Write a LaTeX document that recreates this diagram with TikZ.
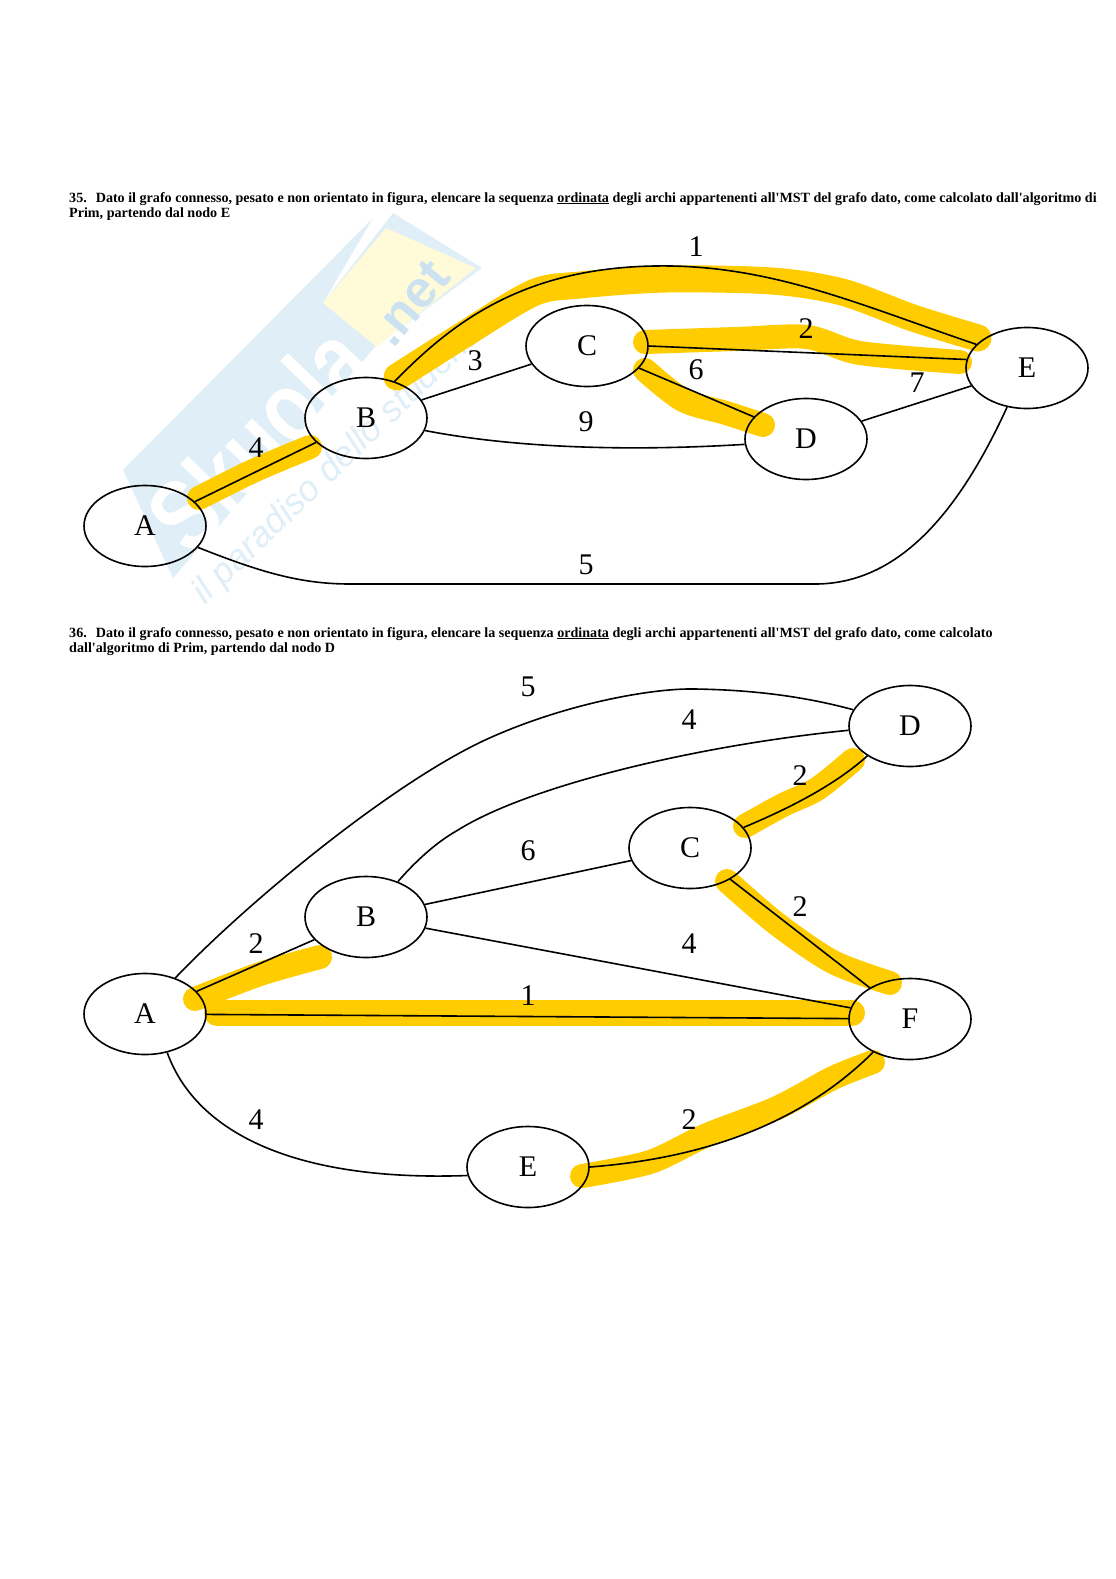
\documentclass[tikz,border=0pt]{standalone}
\usepackage{fontspec}
\setmainfont{Liberation Serif}
\newfontfamily\markfont{Liberation Sans}
\usetikzlibrary{shapes.geometric}
\definecolor{marker}{HTML}{FFCC00}
\definecolor{markblue}{HTML}{DFEEF7}
\definecolor{markletter}{HTML}{CCE2F1}
\definecolor{markyellow}{HTML}{FFFBD8}
\begin{document}
\begin{tikzpicture}[x=1pt, y=-1pt,
	vertex/.style={ellipse, draw, line width=1.6pt, minimum width=122pt, minimum height=81pt, inner sep=0pt, font=\fontsize{30}{30}\selectfont},
	weight/.style={inner sep=0pt, font=\fontsize{30}{30}\selectfont},
	edge/.style={line width=1.6pt},
	stroke/.style={marker, line width=24pt, line cap=round, line join=round},
	question/.style={anchor=north west, inner sep=0pt, align=left, font=\fontsize{14.1}{15.4}\selectfont\bfseries}]
\useasboundingbox (0,0) rectangle (1116,1579);
% watermark
\fill [markblue] (123,470) -- (373,218) -- (323,303) -- (375,347) -- (173,578) -- cycle;
\fill [markblue] (323,303) -- (393,213) -- (482,268) -- (375,347) -- cycle;
\fill [markyellow] (323,303) -- (386,228) -- (476,268) -- (377,347) -- cycle;
\node [white, rotate=46, inner sep=0pt, font=\markfont\fontsize{92}{92}\selectfont\bfseries] (skuola) at (258,438) {\scalebox{0.88}[1.1]{Skuola}};
\node [markletter, rotate=50, inner sep=0pt, font=\markfont\fontsize{52}{52}\selectfont\bfseries] (net) at (410,303) {.net};
\node [markblue, rotate=44, inner sep=0pt, font=\markfont\itshape\fontsize{36}{36}\selectfont] (motto) at (342,460) {il paradiso dello studente};
% highlighted arcs, first graph
\draw [stroke] plot [smooth] coordinates {(199,498) (253,471) (310,447)};
\draw [stroke, line width=27pt] plot [smooth] coordinates {(397,377) (460,337) (533,293) (580,285) (666,279) (772,281) (842,292) (913,318) (978,338)};
\draw [stroke] plot [smooth] coordinates {(645,342) (736,339) (807,337) (860,353) (960,362)};
\draw [stroke] plot [smooth] coordinates {(645,370) (683,400) (726,413) (763,425)};
% highlighted arcs, second graph
\draw [stroke] plot [smooth] coordinates {(195,999) (260,974) (320,957)};
\draw [stroke, line width=26pt] (217,1013) -- (852,1013);
\draw [stroke] plot [smooth] coordinates {(745,826) (783,805) (817,789) (853,760)};
\draw [stroke] plot [smooth] coordinates {(727,881) (777,924) (833,962) (890,983)};
\draw [stroke] plot [smooth] coordinates {(582,1176) (650,1162) (707,1135) (777,1108) (833,1078) (873,1062)};
% first question
\node [question] (q35) at (69,192) {35.\hspace{9pt}Dato il grafo connesso, pesato e non orientato in figura, elencare la sequenza \underline{ordinata} degli archi appartenenti all\textquotesingle MST del grafo dato, come calcolato dall\textquotesingle algoritmo di\\Prim, partendo dal nodo E};
\node [vertex] (a1) at (145,526) {A};
\node [vertex] (b1) at (366,418) {B};
\node [vertex] (c1) at (587,346) {C};
\node [vertex] (d1) at (806,439) {D};
\node [vertex] (e1) at (1027,368) {E};
\draw [edge] (a1) -- (b1);
\draw [edge] (b1) -- (c1);
\draw [edge] (c1) -- (d1);
\draw [edge] (c1.0) -- (e1.172);
\draw [edge] (d1) -- (e1);
\draw [edge] (b1.-12) .. controls (510,447) and (620,452) .. (d1.185);
\draw [edge] (b1.52) .. controls (450,325) and (520,268) .. (655,266) .. controls (770,264) and (860,305) .. (e1.155);
\draw [edge] (a1.-22) .. controls (260,572) and (300,584) .. (350,584) -- (815,584) .. controls (900,584) and (960,510) .. (e1.-117);
\node [weight] (w1) at (696,247) {1};
\node [weight] (w2) at (806,329) {2};
\node [weight] (w3) at (475,361) {3};
\node [weight] (w4) at (256,448) {4};
\node [weight] (w5) at (586,565) {5};
\node [weight] (w6) at (696,370) {6};
\node [weight] (w7) at (917,383) {7};
\node [weight] (w9) at (586,422) {9};
% second question
\node [question] (q36) at (69,627) {36.\hspace{9pt}Dato il grafo connesso, pesato e non orientato in figura, elencare la sequenza \underline{ordinata} degli archi appartenenti all\textquotesingle MST del grafo dato, come calcolato\\dall\textquotesingle algoritmo di Prim, partendo dal nodo D};
\node [vertex] (a2) at (145,1014) {A};
\node [vertex] (b2) at (366,917) {B};
\node [vertex] (c2) at (690,848) {C};
\node [vertex] (d2) at (910,726) {D};
\node [vertex] (e2) at (528,1167) {E};
\node [vertex] (f2) at (910,1019) {F};
\draw [edge] (a2) -- (b2);
\draw [edge] (a2) -- (f2);
\draw [edge] (b2) -- (c2);
\draw [edge] (b2) -- (f2);
\draw [edge] (c2) -- (f2);
\draw [edge] (c2.21) .. controls (790,808) and (835,785) .. (d2.-145);
\draw [edge] (a2.50) .. controls (250,900) and (390,785) .. (483,741) .. controls (560,705) and (650,688) .. (695,689) .. controls (760,690) and (810,698) .. (d2.164);
\draw [edge] (b2.48) .. controls (415,862) and (435,843) .. (458,830) .. controls (530,785) and (700,745) .. (d2.184);
\draw [edge] (a2.-60) .. controls (195,1130) and (290,1182) .. (e2.188);
\draw [edge] (e2.0) .. controls (680,1160) and (790,1135) .. (f2.-138);
\node [weight] (x5) at (528,687) {5};
\node [weight] (x4a) at (689,720) {4};
\node [weight] (x2a) at (800,776) {2};
\node [weight] (x6) at (528,851) {6};
\node [weight] (x2b) at (256,944) {2};
\node [weight] (x2c) at (800,907) {2};
\node [weight] (x4b) at (689,944) {4};
\node [weight] (x1) at (528,996) {1};
\node [weight] (x4c) at (256,1120) {4};
\node [weight] (x2d) at (689,1120) {2};
\end{tikzpicture}
\end{document}
